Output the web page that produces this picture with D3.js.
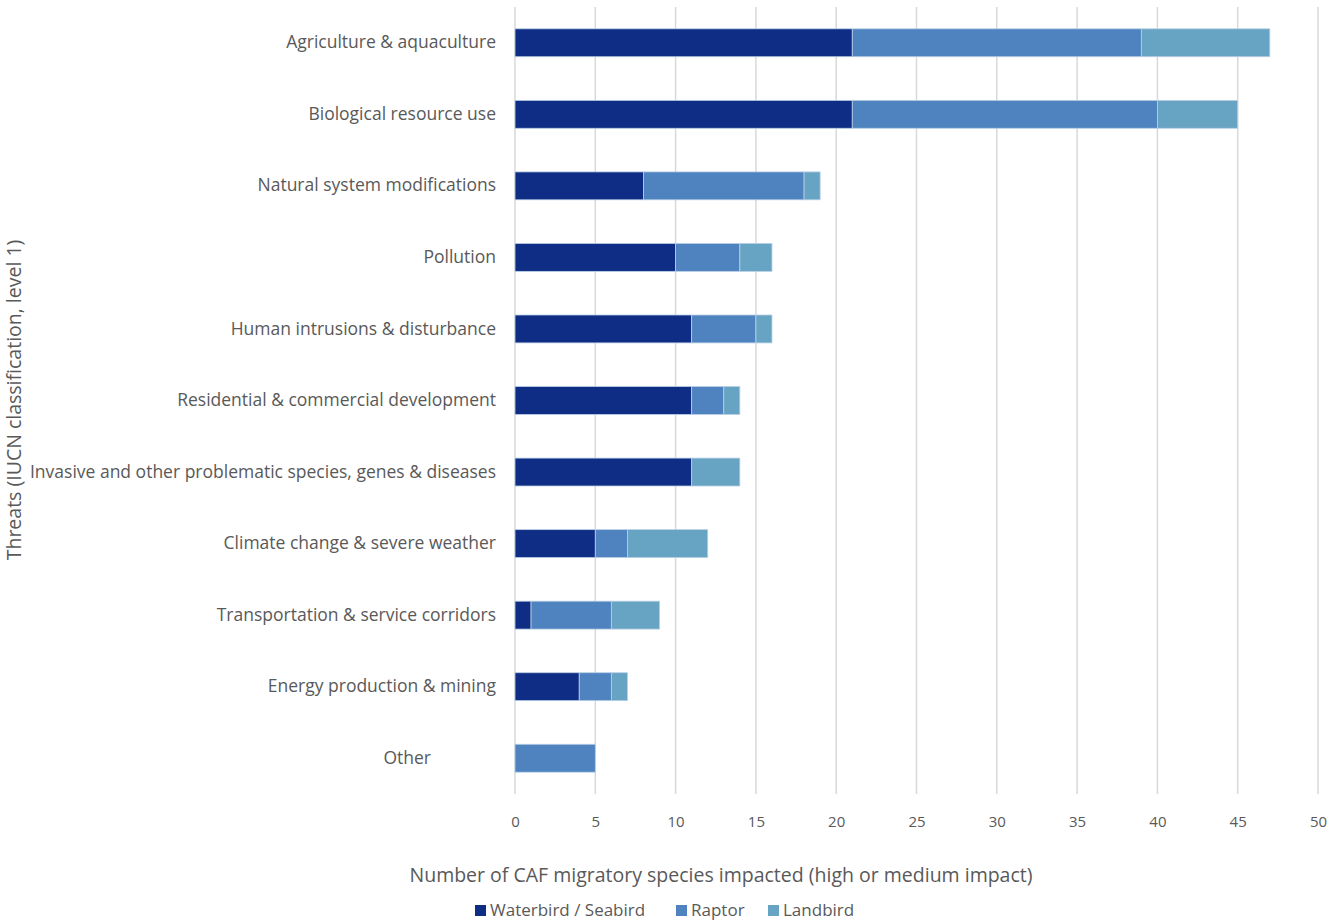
<!DOCTYPE html>
<html>
<head>
<meta charset="utf-8">
<script src="https://cdn.jsdelivr.net/npm/d3@7"></script>
<style>
  body { margin: 0; background: #fff; }
  text { font-family: "Open Sans", "Noto Sans", sans-serif; fill: #595959; }
</style>
</head>
<body>
<svg id="chart" width="1331" height="924"></svg>
<script>
// Threats to CAF migratory species, stacked by group

const categories = [
  "Agriculture & aquaculture",
  "Biological resource use",
  "Natural system modifications",
  "Pollution",
  "Human intrusions & disturbance",
  "Residential & commercial development",
  "Invasive and other problematic species, genes & diseases",
  "Climate change & severe weather",
  "Transportation & service corridors",
  "Energy production & mining",
  "Other"
];
const waterbird = [21, 21, 8, 10, 11, 11, 11, 5, 1, 4, 0];
const raptor    = [18, 19, 10, 4, 4, 2, 0, 2, 5, 2, 5];
const landbird  = [8, 5, 1, 2, 1, 1, 3, 5, 3, 1, 0];

const seriesNames = ["Waterbird / Seabird", "Raptor", "Landbird"];
const colors = ["#0f2d84", "#4f83bf", "#67a3c2"];
const xTicks = [0, 5, 10, 15, 20, 25, 30, 35, 40, 45, 50];

const margin = { top: 7, right: 13, bottom: 130, left: 515 };
const width = 1331 - margin.left - margin.right;
const height = 924 - margin.top - margin.bottom;

const rows = categories.map((c, i) => ({
  cat: c, "Waterbird / Seabird": waterbird[i], "Raptor": raptor[i], "Landbird": landbird[i]
}));
const stacked = d3.stack().keys(seriesNames)(rows);

const svg = d3.select("#chart");
const g = svg.append("g").attr("transform", `translate(${margin.left},${margin.top})`);

const x = d3.scaleLinear().domain([0, 50]).range([0, width]);
const y = d3.scaleBand().domain(categories).range([0, height]).paddingInner(0.61).paddingOuter(0.305);

// gridlines
g.selectAll(".grid")
  .data(xTicks)
  .enter()
  .append("line")
  .attr("x1", d => x(d)).attr("x2", d => x(d))
  .attr("y1", 0).attr("y2", height)
  .attr("stroke", "#d9d9d9")
  .attr("stroke-width", 1.5);

// bars
g.selectAll(".series")
  .data(stacked)
  .enter()
  .append("g")
  .attr("fill", (d, i) => colors[i])
  .selectAll("rect")
  .data(d => d)
  .enter()
  .filter(d => d[1] - d[0] > 0)
  .append("rect")
  .attr("x", d => x(d[0]))
  .attr("y", d => y(d.data.cat))
  .attr("width", d => x(d[1]) - x(d[0]))
  .attr("height", y.bandwidth())
  .attr("stroke", "#b8cfe6")
  .attr("stroke-width", 0.8);

// x axis labels
const xAxis = d3.axisBottom(x).tickValues(xTicks).tickSize(0).tickPadding(22);
g.append("g")
  .attr("transform", `translate(0,${height})`)
  .call(xAxis)
  .call(a => a.select(".domain").remove())
  .selectAll("text")
  .style("font-size", "15px")
  .attr("fill", "#595959");

// category labels
const yAxis = d3.axisLeft(y).tickSize(0).tickPadding(19);
g.append("g")
  .call(yAxis)
  .call(a => a.select(".domain").remove())
  .selectAll("text")
  .style("font-size", "17.5px")
  .attr("fill", "#595959")
  .attr("dx", d => d === "Other" ? -65 : 0);

// axis titles
svg.append("text")
  .attr("x", 721)
  .attr("y", 882)
  .attr("text-anchor", "middle")
  .style("font-size", "19.5px")
  .text("Number of CAF migratory species impacted (high or medium impact)");

svg.append("text")
  .attr("transform", "translate(21,400) rotate(-90)")
  .attr("text-anchor", "middle")
  .style("font-size", "19.5px")
  .text("Threats (IUCN classification, level 1)");

// legend
const legendX = [475, 676, 768];
const legend = svg.selectAll(".legend")
  .data(seriesNames)
  .enter()
  .append("g")
  .attr("transform", (d, i) => `translate(${legendX[i]},910)`);
legend.append("rect")
  .attr("x", 0).attr("y", -5)
  .attr("width", 11).attr("height", 11)
  .attr("fill", (d, i) => colors[i]);
legend.append("text")
  .attr("x", 15).attr("y", 6)
  .style("font-size", "17px")
  .text(d => d);
</script>
</body>
</html>
